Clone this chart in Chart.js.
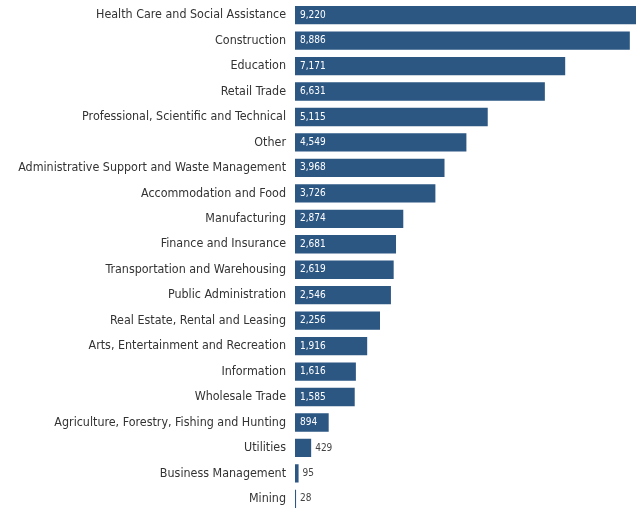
<!DOCTYPE html>
<html>
<head>
<meta charset="utf-8">
<script src="https://cdn.jsdelivr.net/npm/chart.js@4/dist/chart.umd.min.js"></script>
<style>
  html, body { margin: 0; padding: 0; background: #fff; overflow: hidden; }
  #wrap { width: 636px; height: 510px; overflow: hidden; }
  #chart { display: block; margin-top: -14px; }
</style>
</head>
<body>
<div id="wrap"><canvas id="chart" width="636" height="542"></canvas></div>
<script>
const industries = [
  'Health Care and Social Assistance',
  'Construction',
  'Education',
  'Retail Trade',
  'Professional, Scientific and Technical',
  'Other',
  'Administrative Support and Waste Management',
  'Accommodation and Food',
  'Manufacturing',
  'Finance and Insurance',
  'Transportation and Warehousing',
  'Public Administration',
  'Real Estate, Rental and Leasing',
  'Arts, Entertainment and Recreation',
  'Information',
  'Wholesale Trade',
  'Agriculture, Forestry, Fishing and Hunting',
  'Utilities',
  'Business Management',
  'Mining'
];
const counts = [9220, 8886, 7171, 6631, 5115, 4549, 3968, 3726, 2874, 2681, 2619, 2546, 2256, 1916, 1616, 1585, 894, 429, 95, 28];

const barColor = '#2d5783';
const labelFont = '"DejaVu Sans Condensed", "DejaVu Sans", sans-serif';

// value labels: white inside the bar, grey after it when the bar is too short
const valueLabels = {
  id: 'valueLabels',
  afterDatasetsDraw(chart) {
    const ctx = chart.ctx;
    const meta = chart.getDatasetMeta(0);
    ctx.save();
    ctx.font = '10px ' + labelFont;
    ctx.textBaseline = 'middle';
    meta.data.forEach((bar, i) => {
      const txt = counts[i].toLocaleString('en-US');
      const w = ctx.measureText(txt).width;
      const barW = bar.x - bar.base;
      if (barW > w + 8) {
        ctx.fillStyle = '#ffffff';
        ctx.fillText(txt, bar.base + 5, bar.y);
      } else {
        ctx.fillStyle = '#444444';
        ctx.fillText(txt, bar.x + 4, bar.y);
      }
    });
    ctx.restore();
  }
};

new Chart(document.getElementById('chart'), {
  type: 'bar',
  data: {
    labels: industries,
    datasets: [{
      data: counts,
      backgroundColor: barColor,
      borderWidth: 0,
      barPercentage: 0.72,
      categoryPercentage: 1.0
    }]
  },
  options: {
    indexAxis: 'y',
    responsive: false,
    animation: false,
    layout: { padding: 0 },
    plugins: {
      legend: { display: false },
      tooltip: { enabled: false }
    },
    scales: {
      x: {
        display: false,
        min: 0,
        max: 9050
      },
      y: {
        grid: { display: false, drawTicks: false },
        border: { display: false },
        afterFit(scale) { scale.width = 295; },
        ticks: {
          padding: 9,
          color: '#333333',
          font: { family: labelFont, size: 12.4 },
          autoSkip: false
        }
      }
    }
  },
  plugins: [valueLabels]
});
</script>
</body>
</html>
